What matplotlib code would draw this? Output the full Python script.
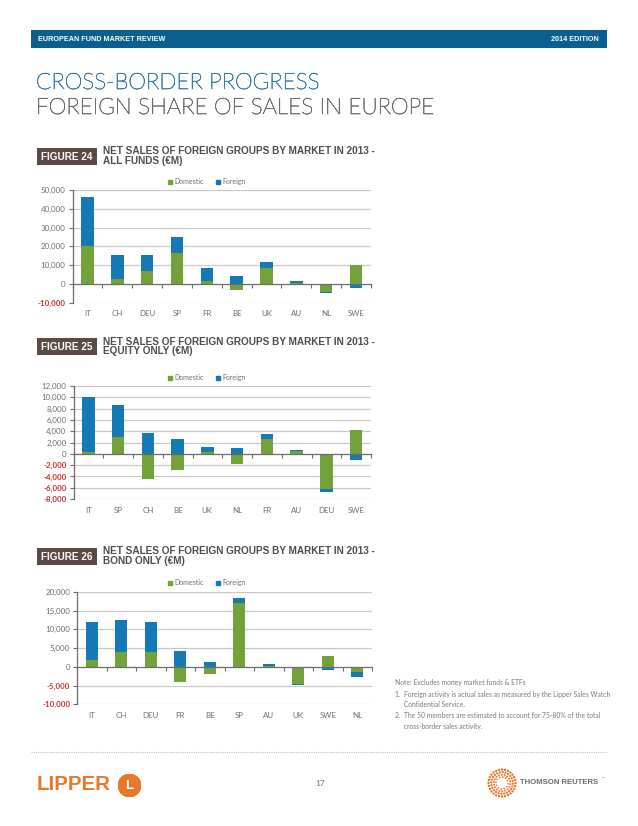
import numpy as np
import matplotlib
matplotlib.use("Agg")
import matplotlib.pyplot as plt
from matplotlib.lines import Line2D
from matplotlib.patches import Rectangle, Circle
import matplotlib.transforms as mtransforms
import matplotlib.patheffects as pe

# ---------------- data ----------------
cats1 = ['IT', 'CH', 'DEU', 'SP', 'FR', 'BE', 'UK', 'AU', 'NL', 'SWE']
dom1 = [20000, 2700, 6700, 16700, 1600, -3400, 8600, 300, -4300, 9900]
for1 = [26400, 12600, 8900, 8100, 6800, 4000, 2900, 1300, -800, -2000]
ticks1 = [-10000, 0, 10000, 20000, 30000, 40000, 50000]

cats2 = ['IT', 'SP', 'CH', 'BE', 'UK', 'NL', 'FR', 'AU', 'DEU', 'SWE']
dom2 = [300, 2900, -4400, -2900, 300, -1800, 2600, 450, -6300, 4300]
for2 = [9700, 5700, 3600, 2600, 950, 1000, 850, 300, -400, -1100]
ticks2 = [-8000, -6000, -4000, -2000, 0, 2000, 4000, 6000, 8000, 10000, 12000]

cats3 = ['IT', 'CH', 'DEU', 'FR', 'BE', 'SP', 'AU', 'UK', 'SWE', 'NL']
dom3 = [1800, 4100, 4100, -4000, -1900, 17100, 150, -4500, 2800, -1300]
for3 = [10300, 8400, 8000, 4300, 1200, 1200, 550, -400, -800, -1300]
ticks3 = [-10000, -5000, 0, 5000, 10000, 15000, 20000]

series_names = ['Domestic', 'Foreign']

# ---------------- style ----------------
W, H = 638, 826
GREEN = '#74a23a'
BLUE = '#1479b5'
GRID = '#c9c9c9'
AXIS = '#6b6b6b'
TXT = '#6e6e6e'
RED = '#d0302c'
BOX = '#5b4b44'
HEAD = '#0b5f8f'
ORANGE = '#e8782a'

fig = plt.figure(figsize=(W / 100, H / 100), dpi=100)
fig.patch.set_facecolor('white')


def fx(x):
    return x / W


def fy(y):
    return 1 - y / H


def ax_rect(l, t, r, b):
    return [fx(l), fy(b), (r - l) / W, (b - t) / H]


# ---------------- header ----------------
fig.patches.append(Rectangle((fx(31), fy(48)), (607 - 31) / W, 18 / H,
                             transform=fig.transFigure, facecolor=HEAD,
                             edgecolor='none'))
fig.text(fx(38), fy(39.5), 'EUROPEAN FUND MARKET REVIEW', color='white',
         fontsize=5.2, fontweight='bold', family='Liberation Sans', va='center')
fig.text(fx(599), fy(39.5), '2014 EDITION', color='white',
         fontsize=5.2, fontweight='bold', family='Liberation Sans', va='center',
         ha='right')

T1 = '#3b7ca6'
T2 = '#6c6c6c'
fig.text(fx(36), fy(89), 'CROSS-BORDER PROGRESS', color=T1,
         fontsize=16.2, family='Lato', fontweight='light', va='baseline',
         path_effects=[pe.withStroke(linewidth=0.45, foreground=T1)])
fig.text(fx(36), fy(114), 'FOREIGN SHARE OF SALES IN EUROPE', color=T2,
         fontsize=16.2, family='Lato', fontweight='light', va='baseline',
         path_effects=[pe.withStroke(linewidth=0.45, foreground=T2)])


# ---------------- charts ----------------
def figure_label(num, top, line1, line2):
    fig.patches.append(Rectangle((fx(37), fy(top + 17.5)), 60 / W, 17.5 / H,
                                 transform=fig.transFigure, facecolor=BOX,
                                 edgecolor='none'))
    fig.text(fx(67), fy(top + 9), 'FIGURE %d' % num, color='white',
             fontsize=7.2, fontweight='bold', family='Liberation Sans',
             ha='center', va='center')
    fig.text(fx(103), fy(top + 4), line1, color='#4d4d4d', fontsize=7.2,
             fontweight='bold', family='Liberation Sans', ha='left', va='center')
    fig.text(fx(103), fy(top + 13.5), line2, color='#4d4d4d', fontsize=7.2,
             fontweight='bold', family='Liberation Sans', ha='left', va='center')


def bar_chart(rect, cats, dom, fore, ticks, legend_y, label_y):
    ax = fig.add_axes(rect)
    d = np.array(dom, dtype=float)
    f = np.array(fore, dtype=float)
    x = np.arange(len(cats))
    fb = np.where((f >= 0) == (d >= 0), d, 0.0)
    ax.bar(x, d, width=0.42, color=GREEN, zorder=3)
    ax.bar(x, f, bottom=fb, width=0.42, color=BLUE, zorder=3)
    ax.set_xlim(-0.5, len(cats) - 0.5)
    ax.set_ylim(ticks[0], ticks[-1])
    ax.set_yticks(ticks)
    ax.set_yticklabels(['{:,}'.format(t) for t in ticks])
    for lab, t in zip(ax.get_yticklabels(), ticks):
        lab.set_color(RED if t < 0 else TXT)
        lab.set_fontsize(5.7)
        lab.set_family('Lato')
        lab.set_fontweight('bold' if t < 0 else 'normal')
    ax.tick_params(axis='y', length=3, width=0.8, color=AXIS, pad=2)
    for t in ticks:
        if t != 0:
            ax.axhline(t, color=GRID, lw=0.9, zorder=1)
    # zero axis with category boundary ticks
    ax.spines['bottom'].set_position(('data', 0))
    ax.spines['bottom'].set_color(AXIS)
    ax.spines['bottom'].set_linewidth(0.9)
    ax.spines['bottom'].set_zorder(4)
    ax.set_xticks(np.arange(len(cats) + 1) - 0.5)
    ax.set_xticklabels([])
    ax.tick_params(axis='x', length=3, width=0.8, color=AXIS, direction='out')
    ax.spines['left'].set_color(AXIS)
    ax.spines['left'].set_linewidth(0.9)
    ax.spines['top'].set_visible(False)
    ax.spines['right'].set_visible(False)
    ax.patch.set_alpha(0)
    # category labels
    trans = mtransforms.blended_transform_factory(ax.transData, fig.transFigure)
    for i, c in enumerate(cats):
        ax.text(i, fy(label_y), c, transform=trans, ha='center', va='center',
                fontsize=5.7, color=TXT, family='Lato', clip_on=False)
    # legend
    handles = [Line2D([], [], marker='s', ls='none', color=GREEN, markersize=3.2),
               Line2D([], [], marker='s', ls='none', color=BLUE, markersize=3.2)]
    leg = fig.legend(handles, series_names, loc='center',
                     bbox_to_anchor=(fx(206), fy(legend_y)), ncol=2,
                     frameon=False, handletextpad=0.1,
                     columnspacing=1.6, handlelength=1.0,
                     prop={'family': 'Lato', 'size': 5})
    for t in leg.get_texts():
        t.set_color(TXT)
    return ax


figure_label(24, 147.5, 'NET SALES OF FOREIGN GROUPS BY MARKET IN 2013 -',
             'ALL FUNDS (\u20acM)')
bar_chart(ax_rect(72.5, 190, 371, 302.7), cats1, dom1, for1, ticks1, 181.7, 313.5)

figure_label(25, 337.5, 'NET SALES OF FOREIGN GROUPS BY MARKET IN 2013 -',
             'EQUITY ONLY (\u20acM)')
bar_chart(ax_rect(73.5, 386, 371, 499), cats2, dom2, for2, ticks2, 377.7, 510.7)

figure_label(26, 547.5, 'NET SALES OF FOREIGN GROUPS BY MARKET IN 2013 -',
             'BOND ONLY (\u20acM)')
bar_chart(ax_rect(77, 592, 372, 704.3), cats3, dom3, for3, ticks3, 582.7, 715.5)

# ---------------- notes ----------------
notes = ['Note: Excludes money market funds & ETFs',
         '1.  Foreign activity is actual sales as measured by the Lipper Sales Watch',
         '     Confidential Service.',
         '2.  The 50 members are estimated to account for 75-80% of the total',
         '     cross-border sales activity.']
note_y = [682, 694, 704.5, 716, 726.5]
for s, yy in zip(notes, note_y):
    fig.text(fx(395), fy(yy), s, fontsize=4.9, color='#7a7a7a', family='Lato',
             va='center')

# ---------------- footer ----------------
fig.add_artist(Line2D([fx(31), fx(607)], [fy(752), fy(752)], color='#bdbdbd',
                      lw=0.8, ls=(0, (1, 1)), transform=fig.transFigure))
fig.text(fx(37), fy(785), 'LIPPER', color=ORANGE, fontsize=14.8,
         fontweight='bold', family='Liberation Sans', va='center')
circ_ax = fig.add_axes(ax_rect(118, 774, 141, 797))
circ_ax.set_xlim(-1, 1)
circ_ax.set_ylim(-1, 1)
circ_ax.set_aspect('equal')
circ_ax.axis('off')
circ_ax.add_patch(Circle((0, 0), 0.98, color=ORANGE))
circ_ax.text(0, -0.05, 'L', color='white', fontsize=9.5, fontweight='bold',
             ha='center', va='center', family='Liberation Sans')

fig.text(fx(320), fy(783), '17', color='#6e6e6e', fontsize=6, family='Lato',
         ha='center', va='center')

tr_ax = fig.add_axes(ax_rect(487, 768, 517, 798))
tr_ax.set_xlim(-1, 1)
tr_ax.set_ylim(-1, 1)
tr_ax.set_aspect('equal')
tr_ax.axis('off')
for r, n, s in [(0.9, 28, 3.0), (0.72, 24, 2.6), (0.55, 18, 2.0), (0.4, 12, 1.5)]:
    ang = np.linspace(0, 2 * np.pi, n, endpoint=False) + r
    tr_ax.scatter(r * np.cos(ang), r * np.sin(ang), s=s, color=ORANGE,
                  edgecolors='none')
fig.text(fx(520), fy(783), 'THOMSON REUTERS', color='#6a6a6a', fontsize=5.6,
         fontweight='bold', family='Liberation Sans', va='center')
fig.text(fx(600), fy(779), '\u2122', color='#6a6a6a', fontsize=3,
         family='DejaVu Sans', va='center')

fig.savefig('out.png', dpi=100)
